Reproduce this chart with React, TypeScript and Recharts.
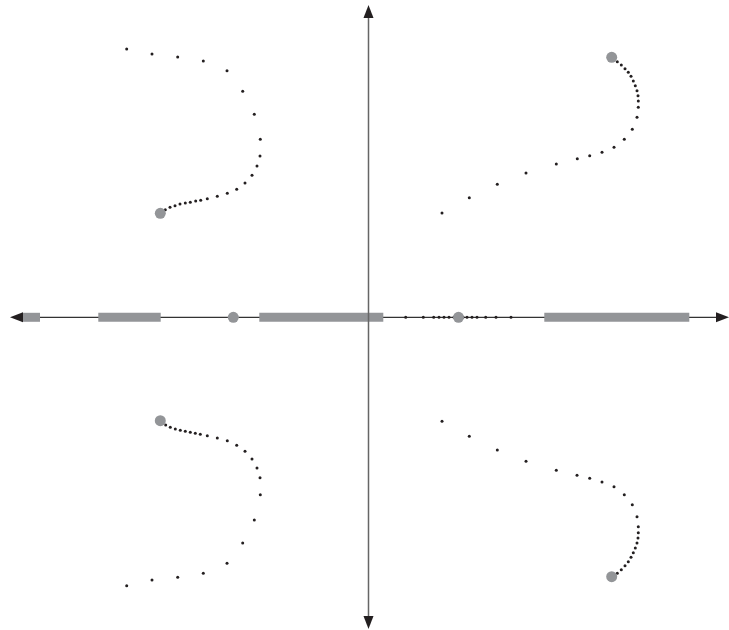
import { ScatterChart, Scatter, XAxis, YAxis, ReferenceLine } from "recharts";

// s-plane, 1 unit = 10px, origin at the axes crossing
const upperLeft = [
  { x: -24.18, y: 26.83 }, { x: -21.65, y: 26.33 }, { x: -19.08, y: 26.03 }, { x: -16.52, y: 25.63 },
  { x: -14.15, y: 24.66 }, { x: -12.58, y: 22.6 }, { x: -11.42, y: 20.3 }, { x: -10.82, y: 17.8 },
  { x: -10.85, y: 16.13 }, { x: -11.15, y: 15.13 }, { x: -11.65, y: 14.2 }, { x: -12.35, y: 13.43 },
  { x: -13.18, y: 12.8 }, { x: -14.12, y: 12.4 }, { x: -15.12, y: 12.1 }, { x: -16.12, y: 11.86 },
  { x: -16.78, y: 11.7 }, { x: -17.28, y: 11.63 }, { x: -17.82, y: 11.5 }, { x: -18.32, y: 11.43 },
  { x: -18.85, y: 11.33 }, { x: -19.35, y: 11.16 }, { x: -19.85, y: 11.0 }, { x: -20.32, y: 10.76 },
];

const lowerLeft = [
  { x: -20.28, y: -10.77 }, { x: -19.82, y: -11.0 }, { x: -19.32, y: -11.17 }, { x: -18.82, y: -11.3 },
  { x: -18.32, y: -11.4 }, { x: -17.82, y: -11.5 }, { x: -17.32, y: -11.6 }, { x: -16.82, y: -11.7 },
  { x: -16.12, y: -11.84 }, { x: -15.12, y: -12.07 }, { x: -14.12, y: -12.34 }, { x: -13.18, y: -12.8 },
  { x: -12.35, y: -13.4 }, { x: -11.65, y: -14.17 }, { x: -11.15, y: -15.07 }, { x: -10.85, y: -16.04 },
  { x: -10.82, y: -17.74 }, { x: -11.42, y: -20.27 }, { x: -12.58, y: -22.57 }, { x: -14.15, y: -24.6 },
  { x: -16.52, y: -25.6 }, { x: -19.08, y: -26.0 }, { x: -21.65, y: -26.27 }, { x: -24.18, y: -26.84 },
];

const upperRight = [
  { x: 24.88, y: 25.56 }, { x: 25.28, y: 25.23 }, { x: 25.65, y: 24.86 }, { x: 25.98, y: 24.5 },
  { x: 26.25, y: 24.1 }, { x: 26.48, y: 23.63 }, { x: 26.68, y: 23.16 }, { x: 26.85, y: 22.66 },
  { x: 26.95, y: 22.16 }, { x: 26.98, y: 21.63 }, { x: 26.98, y: 21.0 }, { x: 26.85, y: 20.0 },
  { x: 26.38, y: 18.8 }, { x: 25.58, y: 17.8 }, { x: 24.55, y: 17.0 }, { x: 23.35, y: 16.5 },
  { x: 22.12, y: 16.16 }, { x: 20.88, y: 15.86 }, { x: 18.78, y: 15.33 }, { x: 15.75, y: 14.43 },
  { x: 12.88, y: 13.3 }, { x: 10.08, y: 11.96 }, { x: 7.35, y: 10.43 },
];

const lowerRight = [
  { x: 7.35, y: -10.4 }, { x: 10.08, y: -11.9 }, { x: 12.88, y: -13.27 }, { x: 15.75, y: -14.4 },
  { x: 18.78, y: -15.3 }, { x: 20.85, y: -15.8 }, { x: 22.12, y: -16.1 }, { x: 23.35, y: -16.47 },
  { x: 24.55, y: -16.94 }, { x: 25.58, y: -17.74 }, { x: 26.38, y: -18.74 }, { x: 26.85, y: -19.94 },
  { x: 26.98, y: -20.94 }, { x: 26.98, y: -21.54 }, { x: 26.95, y: -22.07 }, { x: 26.85, y: -22.57 },
  { x: 26.68, y: -23.07 }, { x: 26.48, y: -23.54 }, { x: 26.25, y: -24.0 }, { x: 25.98, y: -24.44 },
  { x: 25.65, y: -24.84 }, { x: 25.28, y: -25.24 }, { x: 24.88, y: -25.6 },
];

const realAxisDots = [3.72, 5.48, 6.52, 7.05, 7.55, 8.05, 8.55, 9.45, 9.85, 10.35, 10.85, 11.72, 12.75, 14.25];

const poles = [
  { x: -20.82, y: 10.4 },
  { x: -20.82, y: -10.34 },
  { x: 24.32, y: 26.0 },
  { x: 24.32, y: -25.94 },
  { x: -13.52, y: 0 },
  { x: 9.0, y: 0 },
];

// real-axis locus segments [from, to]
const realSegments: [number, number][] = [
  [-34.68, -32.85],
  [-27.02, -20.78],
  [-10.92, 1.48],
  [17.58, 32.08],
];

const arrowTips = [
  { x: -35.85, y: 0, dir: "left" },
  { x: 36.05, y: 0, dir: "right" },
  { x: 0, y: 31.23, dir: "up" },
  { x: 0, y: -31.17, dir: "down" },
];

const locusDots = [
  ...upperLeft,
  ...lowerLeft,
  ...upperRight,
  ...lowerRight,
  ...realAxisDots.map((x) => ({ x, y: 0 })),
];

const GRAY = "#939598";
const INK = "#231f20";

function Dot(props: any) {
  const { cx, cy } = props;
  return <circle cx={cx} cy={cy} r={1.5} fill={INK} />;
}

function Pole(props: any) {
  const { cx, cy } = props;
  return <circle cx={cx} cy={cy} r={5.5} fill={GRAY} />;
}

function Arrow(props: any) {
  const { cx, cy, payload } = props;
  const L = 13;
  const W = 5;
  let pts = "";
  if (payload.dir === "left") pts = `${cx},${cy} ${cx + L},${cy - W} ${cx + L},${cy + W}`;
  if (payload.dir === "right") pts = `${cx},${cy} ${cx - L},${cy - W} ${cx - L},${cy + W}`;
  if (payload.dir === "up") pts = `${cx},${cy} ${cx - W},${cy + L} ${cx + W},${cy + L}`;
  if (payload.dir === "down") pts = `${cx},${cy} ${cx - W},${cy - L} ${cx + W},${cy - L}`;
  return <polygon points={pts} fill={INK} />;
}

export default function App() {
  return (
    <div style={{ position: "absolute", left: 0, top: 0, width: 729, height: 630, background: "#fff" }}>
      <ScatterChart width={729} height={630} margin={{ top: 0, right: 0, bottom: 0, left: 0 }}>
        <XAxis type="number" dataKey="x" domain={[-36.85, 36.05]} allowDataOverflow hide />
        <YAxis type="number" dataKey="y" domain={[-31.27, 31.73]} allowDataOverflow hide />
        <ReferenceLine
          segment={[{ x: -35, y: 0 }, { x: 35.5, y: 0 }]}
          stroke="#333"
          strokeWidth={1.2}
        />
        {realSegments.map(([a, b], i) => (
          <ReferenceLine
            key={i}
            segment={[{ x: a, y: 0 }, { x: b, y: 0 }]}
            stroke={GRAY}
            strokeWidth={9}
          />
        ))}
        <ReferenceLine
          segment={[{ x: 0, y: 30.5 }, { x: 0, y: -30.5 }]}
          stroke="#666"
          strokeWidth={1.5}
        />
        <Scatter data={locusDots} shape={<Dot />} isAnimationActive={false} />
        <Scatter data={poles} shape={<Pole />} isAnimationActive={false} />
        <Scatter data={arrowTips} shape={<Arrow />} isAnimationActive={false} />
      </ScatterChart>
    </div>
  );
}
